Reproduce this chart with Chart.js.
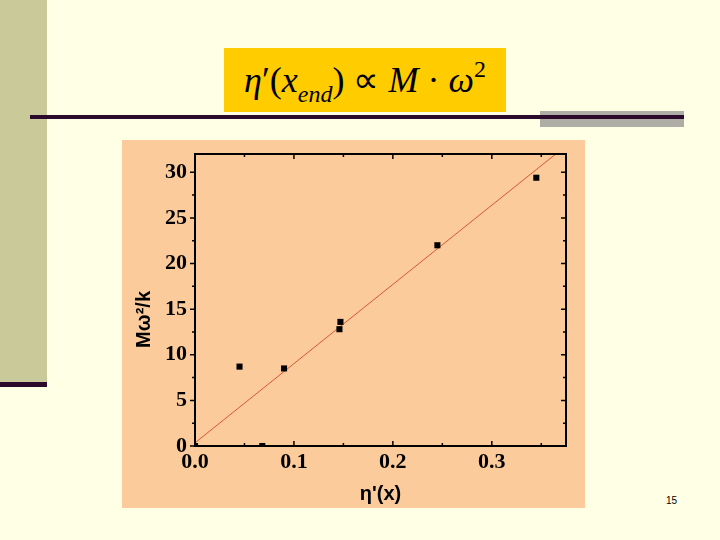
<!DOCTYPE html>
<html>
<head>
<meta charset="utf-8">
<script src="https://cdn.jsdelivr.net/npm/chart.js@4.4.1/dist/chart.umd.min.js"></script>
<style>
  html, body { margin: 0; padding: 0; }
  body { width: 720px; height: 540px; background: #FFFFE6; position: relative; overflow: hidden; }
  .strip { position: absolute; left: 0; top: 0; width: 47px; height: 382px; background: #CAC99A; }
  .stripline { position: absolute; left: 0; top: 382px; width: 47px; height: 5px; background: #2B0A2B; }
  .bar { position: absolute; left: 540px; top: 111px; width: 144px; height: 16px; background: #AEADA6; }
  .rule { position: absolute; left: 30px; top: 115px; width: 654px; height: 4px; background: #2B0A2B; }
  .formula {
    position: absolute; left: 224px; top: 48px; width: 282px; height: 64px;
    background: #FFCC00; font-family: "Liberation Serif", serif; font-size: 36px;
    line-height: 64px; text-align: center; white-space: nowrap; color: #000;
  }
  .formula sub { font-size: 24px; vertical-align: -10px; line-height: 0; }
  .formula sup { font-size: 24px; vertical-align: 15px; line-height: 0; }
  .panel { position: absolute; left: 122px; top: 140px; width: 463px; height: 368px; background: #FBCB9C; }
  .panel canvas { display: block; }
  .pagenum { position: absolute; left: 666px; top: 495px; font: 10px "Liberation Sans", Arial, sans-serif; color: #000; }
</style>
</head>
<body>
<div class="strip"></div>
<div class="stripline"></div>
<div class="bar"></div>
<div class="rule"></div>
<div class="formula"><i>η</i>′(<i>x</i><sub><i>end</i></sub>) ∝ <i>M</i> · <i>ω</i><sup>2</sup></div>
<div class="panel"><canvas id="myChart" width="463" height="368"></canvas></div>
<div class="pagenum">15</div>
<script>
const ctx = document.getElementById("myChart");

// measured points
const etaX = [0, 0.045, 0.068, 0.09, 0.146, 0.147, 0.245, 0.345];
const mw2k = [0, 8.7, 0, 8.5, 12.8, 13.6, 22.0, 29.4];

// linear fit line end points
const fitX = [0, 0.375];
const fitY = [0.35, 32.9];

const xTicks = [0, 0.1, 0.2, 0.3];
const xMinor = [0.05, 0.15, 0.25, 0.35];
const yTicks = [0, 5, 10, 15, 20, 25, 30];
const yMinor = [2.5, 7.5, 12.5, 17.5, 22.5, 27.5];

const tickFont = { family: "'Liberation Serif', serif", size: 22, weight: "bold" };
const titleFont = { family: "'Liberation Sans', Arial, sans-serif", size: 20, weight: "bold" };

// frame + tick marks like Origin: left ticks outward, others inward
const frameTicks = {
  id: "frameTicks",
  afterDatasetsDraw(chart) {
    const c = chart.ctx;
    const a = chart.chartArea;
    const xs = chart.scales.x;
    const ys = chart.scales.y;
    c.save();
    c.strokeStyle = "#000";
    c.lineWidth = 2;
    c.strokeRect(a.left, a.top, a.right - a.left, a.bottom - a.top);
    c.lineWidth = 1.5;
    c.beginPath();
    const xMark = (v, len) => {
      const px = xs.getPixelForValue(v);
      c.moveTo(px, a.bottom); c.lineTo(px, a.bottom - len);
      c.moveTo(px, a.top); c.lineTo(px, a.top + len);
    };
    const yMark = (v, len) => {
      const py = ys.getPixelForValue(v);
      c.moveTo(a.left, py); c.lineTo(a.left - len, py);
      c.moveTo(a.right, py); c.lineTo(a.right - len, py);
    };
    xTicks.forEach((v) => xMark(v, 5));
    xMinor.forEach((v) => xMark(v, 3));
    yTicks.forEach((v) => yMark(v, 5));
    yMinor.forEach((v) => yMark(v, 3));
    c.stroke();
    c.restore();
  },
};

new Chart(ctx, {
  type: "scatter",
  data: {
    datasets: [
      {
        data: etaX.map((x, i) => ({ x: x, y: mw2k[i] })),
        pointStyle: "rect",
        pointRadius: 4.3,
        backgroundColor: "#000",
        borderColor: "#000",
        borderWidth: 0,
      },
      {
        type: "line",
        data: fitX.map((x, i) => ({ x: x, y: fitY[i] })),
        borderColor: "#DD5533",
        borderWidth: 1,
        pointRadius: 0,
        fill: false,
      },
    ],
  },
  options: {
    responsive: false,
    animation: false,
    devicePixelRatio: 1,
    layout: { padding: { top: 14, right: 19, left: 0, bottom: 0 } },
    plugins: { legend: { display: false }, tooltip: { enabled: false } },
    scales: {
      x: {
        type: "linear",
        position: "bottom",
        min: 0,
        max: 0.375,
        afterBuildTicks: (s) => { s.ticks = xTicks.map((v) => ({ value: v })); },
        afterFit: (s) => { s.height = 62; s.paddingLeft = 0; s.paddingRight = 0; },
        grid: { display: false, drawTicks: false },
        border: { display: false },
        ticks: {
          color: "#000",
          font: tickFont,
          padding: 3,
          maxRotation: 0,
          callback: (v) => v.toFixed(1),
        },
        title: { display: true, text: "η'(x)", color: "#000", font: titleFont, padding: { top: 0, bottom: 2 } },
      },
      y: {
        type: "linear",
        min: 0,
        max: 32,
        afterBuildTicks: (s) => { s.ticks = yTicks.map((v) => ({ value: v })); },
        afterFit: (s) => { s.width = 73; s.paddingTop = 0; s.paddingBottom = 0; },
        grid: { display: false, drawTicks: false },
        border: { display: false },
        ticks: { color: "#000", font: tickFont, padding: 8 },
        title: { display: true, text: "Mω²/k       ", color: "#000", font: titleFont, padding: { top: 10, bottom: 0 } },
      },
    },
  },
  plugins: [frameTicks],
});
</script>
</body>
</html>
